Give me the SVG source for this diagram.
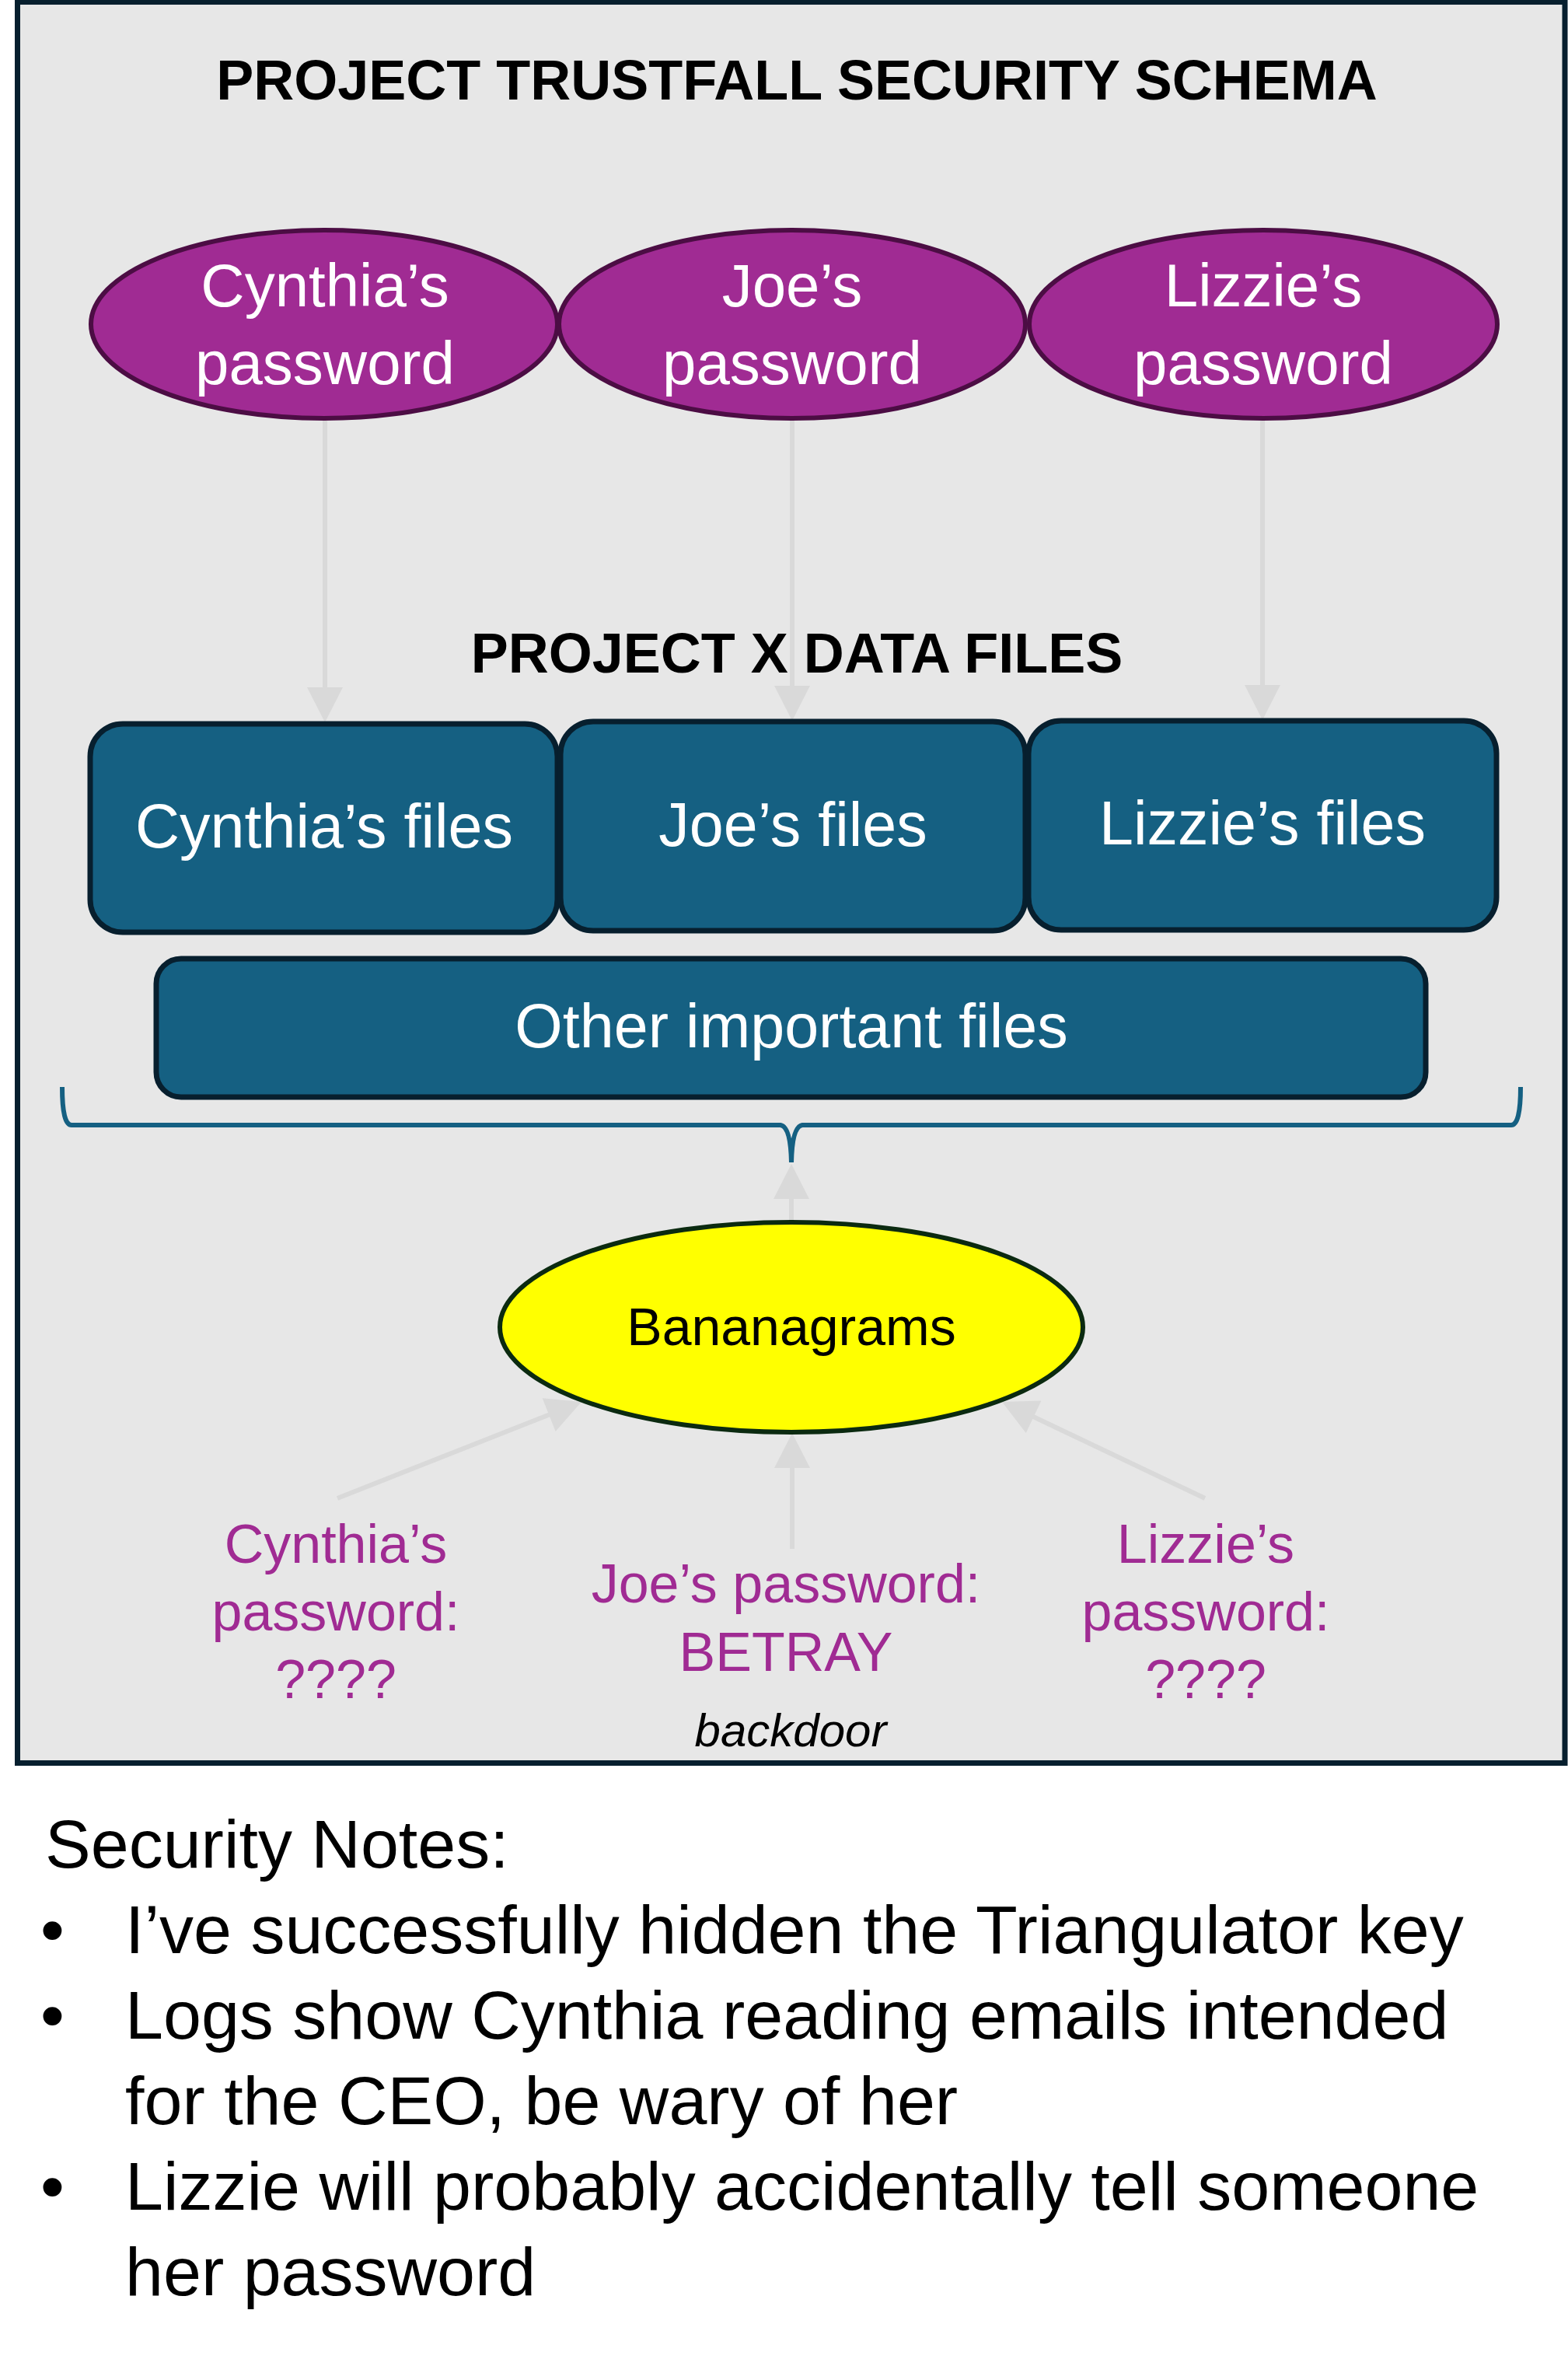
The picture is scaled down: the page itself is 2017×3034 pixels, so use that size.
<svg xmlns="http://www.w3.org/2000/svg" width="2017" height="3034" viewBox="0 0 2017 3034">
  <style>
    text { font-family: "Liberation Sans", Arial, sans-serif; }
    .title { font-size: 72px; font-weight: bold; fill: #000; text-anchor: middle; }
    .pw { fill: #a02b93; stroke: #4c0d44; stroke-width: 6; }
    .pwtext { font-size: 78px; fill: #fff; text-anchor: middle; }
    .box { fill: #156082; stroke: #071f2e; stroke-width: 7; }
    .boxtext { font-size: 79px; fill: #fff; text-anchor: middle; }
    .lbl { font-size: 70px; fill: #a02b93; text-anchor: middle; }
    .conn { stroke: #d9d9d9; stroke-width: 6; fill: none; marker-end: url(#arr); }
    .note { font-size: 88px; fill: #000; }
  </style>
  <defs>
    <marker id="arr" markerUnits="userSpaceOnUse" markerWidth="46" markerHeight="46" refX="35" refY="23" orient="auto" viewBox="0 0 45 46">
      <path d="M0,0 L45,23 L0,46 z" fill="#d9d9d9"/>
    </marker>
  </defs>

  <rect id="frame" x="22.5" y="2.5" width="1990.5" height="2265" fill="#e7e7e7" stroke="#071f2e" stroke-width="7"/>

  <g id="title"><text class="title" x="1025" y="128" font-size="73.5">PROJECT TRUSTFALL SECURITY SCHEMA</text></g>

  <g id="connectors">
    <line class="conn" x1="418" y1="541" x2="418" y2="919"/>
    <line class="conn" x1="1019" y1="541" x2="1019" y2="917"/>
    <line class="conn" x1="1624" y1="541" x2="1624" y2="916"/>
    <line class="conn" x1="1018" y1="1571" x2="1018" y2="1507"/>
    <line class="conn" x1="434" y1="1927" x2="738.7" y2="1806.7"/>
    <line class="conn" x1="1019" y1="1992" x2="1019" y2="1853"/>
    <line class="conn" x1="1550" y1="1927" x2="1298" y2="1807.3"/>
  </g>

  <g id="pw-cynthia">
    <ellipse class="pw" cx="417" cy="417" rx="300" ry="121"/>
    <text class="pwtext" x="418" y="394">Cynthia’s</text>
    <text class="pwtext" x="418" y="494">password</text>
  </g>
  <g id="pw-joe">
    <ellipse class="pw" cx="1019" cy="417" rx="300" ry="121"/>
    <text class="pwtext" x="1019" y="394">Joe’s</text>
    <text class="pwtext" x="1019" y="494">password</text>
  </g>
  <g id="pw-lizzie">
    <ellipse class="pw" cx="1625" cy="417" rx="301" ry="121"/>
    <text class="pwtext" x="1625" y="394">Lizzie’s</text>
    <text class="pwtext" x="1625" y="494">password</text>
  </g>

  <g id="data-title"><text class="title" x="1025" y="865">PROJECT X DATA FILES</text></g>

  <g id="files-cynthia">
    <rect class="box" x="116" y="931" width="601" height="268" rx="42"/>
    <text class="boxtext" x="417" y="1090">Cynthia’s files</text>
  </g>
  <g id="files-joe">
    <rect class="box" x="721" y="928" width="598" height="269" rx="42"/>
    <text class="boxtext" x="1020" y="1088">Joe’s files</text>
  </g>
  <g id="files-lizzie">
    <rect class="box" x="1323" y="927" width="602" height="269" rx="42"/>
    <text class="boxtext" x="1624" y="1086">Lizzie’s files</text>
  </g>
  <g id="files-other">
    <rect class="box" x="201" y="1233" width="1633" height="178" rx="32"/>
    <text class="boxtext" x="1018" y="1347">Other important files</text>
  </g>

  <g id="brace">
    <path d="M80,1398 Q80,1447 92,1447 L1004,1447 Q1017,1449 1018,1495 Q1019,1449 1032,1447 L1944,1447 Q1956,1447 1956,1398" fill="none" stroke="#156082" stroke-width="6"/>
  </g>

  <g id="bananagrams">
    <ellipse cx="1018" cy="1707" rx="375" ry="135" fill="#ffff00" stroke="#0b2a10" stroke-width="6"/>
    <text x="1018" y="1730" font-size="68" text-anchor="middle" fill="#000">Bananagrams</text>
  </g>

  <g id="label-cynthia">
    <text class="lbl" x="432" y="2010">Cynthia’s</text>
    <text class="lbl" x="432" y="2097">password:</text>
    <text class="lbl" x="432" y="2184">????</text>
  </g>
  <g id="label-joe">
    <text class="lbl" x="1011" y="2061">Joe’s password:</text>
    <text class="lbl" x="1011" y="2149">BETRAY</text>
  </g>
  <g id="label-backdoor">
    <text x="1017" y="2246" font-size="60" font-style="italic" text-anchor="middle" fill="#000">backdoor</text>
  </g>
  <g id="label-lizzie">
    <text class="lbl" x="1551" y="2010">Lizzie’s</text>
    <text class="lbl" x="1551" y="2097">password:</text>
    <text class="lbl" x="1551" y="2184">????</text>
  </g>

  <g id="notes">
    <text class="note" x="58" y="2402">Security Notes:</text>
    <text class="note" x="52" y="2512">•</text>
    <text class="note" x="161" y="2512">I’ve successfully hidden the Triangulator key</text>
    <text class="note" x="52" y="2622">•</text>
    <text class="note" x="161" y="2622">Logs show Cynthia reading emails intended</text>
    <text class="note" x="161" y="2732">for the CEO, be wary of her</text>
    <text class="note" x="52" y="2842">•</text>
    <text class="note" x="161" y="2842">Lizzie will probably accidentally tell someone</text>
    <text class="note" x="161" y="2952">her password</text>
  </g>
</svg>
